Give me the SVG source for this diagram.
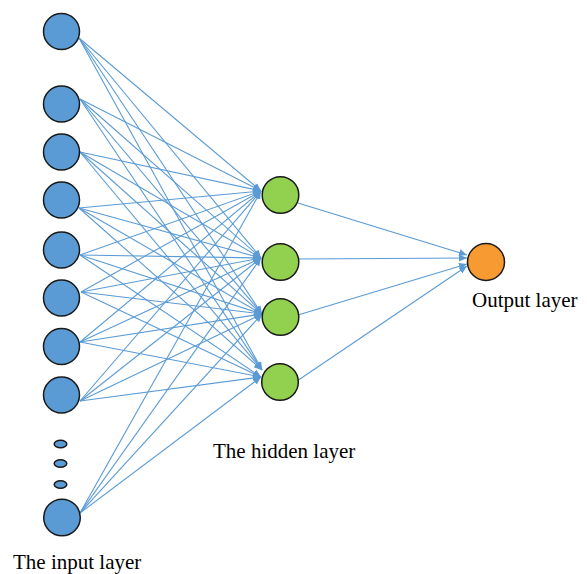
<svg xmlns="http://www.w3.org/2000/svg" width="587" height="574" viewBox="0 0 587 574">
<style>
.e{stroke:#5B9BD5;stroke-width:1.1;fill:none;marker-end:url(#ah)}
.in{fill:#5B9BD5;stroke:#1a1a1a;stroke-width:1.5}
.hid{fill:#92D050;stroke:#1a1a1a;stroke-width:1.5}
.out{fill:#F79A32;stroke:#1a1a1a;stroke-width:1.5}
.t{font-family:"Liberation Serif","Times New Roman",serif;font-size:21px;fill:#000}
</style>
<defs>
<marker id="ah" markerUnits="userSpaceOnUse" markerWidth="9" markerHeight="8" refX="8" refY="3.5" orient="auto">
<path d="M0,0 L8,3.5 L0,7 z" fill="#5B9BD5"/>
</marker>
</defs>
<rect width="587" height="574" fill="#fff"/>
<g id="connectors">
<line class="e" x1="79" y1="38" x2="261" y2="191"/>
<line class="e" x1="79" y1="38" x2="261" y2="258"/>
<line class="e" x1="79" y1="38" x2="262" y2="314"/>
<line class="e" x1="79" y1="38" x2="262" y2="370"/>
<line class="e" x1="80" y1="99" x2="261" y2="191"/>
<line class="e" x1="80" y1="99" x2="261" y2="258"/>
<line class="e" x1="80" y1="99" x2="262" y2="314"/>
<line class="e" x1="80" y1="99" x2="262" y2="370"/>
<line class="e" x1="80" y1="152" x2="261" y2="191"/>
<line class="e" x1="80" y1="152" x2="261" y2="258"/>
<line class="e" x1="80" y1="152" x2="262" y2="314"/>
<line class="e" x1="80" y1="152" x2="262" y2="370"/>
<line class="e" x1="79" y1="208" x2="261" y2="191"/>
<line class="e" x1="79" y1="208" x2="261" y2="258"/>
<line class="e" x1="79" y1="208" x2="262" y2="314"/>
<line class="e" x1="79" y1="208" x2="262" y2="370"/>
<line class="e" x1="80" y1="255" x2="261" y2="191"/>
<line class="e" x1="80" y1="255" x2="261" y2="258"/>
<line class="e" x1="80" y1="255" x2="262" y2="314"/>
<line class="e" x1="80" y1="255" x2="261" y2="377"/>
<line class="e" x1="81" y1="292" x2="261" y2="191"/>
<line class="e" x1="81" y1="292" x2="261" y2="258"/>
<line class="e" x1="81" y1="292" x2="262" y2="314"/>
<line class="e" x1="81" y1="292" x2="261" y2="377"/>
<line class="e" x1="80" y1="342" x2="261" y2="191"/>
<line class="e" x1="80" y1="342" x2="261" y2="258"/>
<line class="e" x1="80" y1="342" x2="262" y2="314"/>
<line class="e" x1="80" y1="342" x2="261" y2="377"/>
<line class="e" x1="80" y1="401" x2="261" y2="191"/>
<line class="e" x1="80" y1="401" x2="261" y2="258"/>
<line class="e" x1="80" y1="401" x2="262" y2="314"/>
<line class="e" x1="80" y1="401" x2="261" y2="377"/>
<line class="e" x1="80" y1="513" x2="261" y2="191"/>
<line class="e" x1="80" y1="513" x2="261" y2="258"/>
<line class="e" x1="80" y1="513" x2="262" y2="314"/>
<line class="e" x1="80" y1="513" x2="261" y2="377"/>
<line class="e" x1="298" y1="203" x2="467" y2="255"/>
<line class="e" x1="298" y1="259" x2="467" y2="258"/>
<line class="e" x1="298" y1="315" x2="467" y2="264"/>
<line class="e" x1="297" y1="381" x2="467" y2="266"/>
</g>
<g id="in1"><circle class="in" cx="61.5" cy="31.5" r="18"/></g>
<g id="in2"><circle class="in" cx="61.5" cy="104" r="18"/></g>
<g id="in3"><circle class="in" cx="61.5" cy="152" r="18"/></g>
<g id="in4"><circle class="in" cx="61.5" cy="200" r="18"/></g>
<g id="in5"><circle class="in" cx="61.5" cy="250" r="18"/></g>
<g id="in6"><circle class="in" cx="61.5" cy="298" r="18"/></g>
<g id="in7"><circle class="in" cx="61.5" cy="346.5" r="18"/></g>
<g id="in8"><circle class="in" cx="61.5" cy="395" r="18"/></g>
<g id="dots">
<ellipse class="in" cx="60.5" cy="444" rx="6.3" ry="3.8"/>
<ellipse class="in" cx="60.5" cy="463.5" rx="6.3" ry="3.8"/>
<ellipse class="in" cx="60.5" cy="484.5" rx="6.3" ry="3.8"/>
</g>
<g id="in9"><circle class="in" cx="62" cy="517.5" r="18.3"/></g>
<g id="h1"><circle class="hid" cx="280.5" cy="195" r="18.3"/></g>
<g id="h2"><circle class="hid" cx="280.5" cy="262" r="18.3"/></g>
<g id="h3"><circle class="hid" cx="280.5" cy="317" r="18.3"/></g>
<g id="h4"><circle class="hid" cx="280" cy="382" r="18.3"/></g>
<g id="out"><circle class="out" cx="486" cy="262" r="18.5"/></g>
<g id="labels">
<text class="t" x="13" y="569">The input layer</text>
<text class="t" x="213" y="458">The hidden layer</text>
<text class="t" x="472" y="307">Output layer</text>
</g>
</svg>
